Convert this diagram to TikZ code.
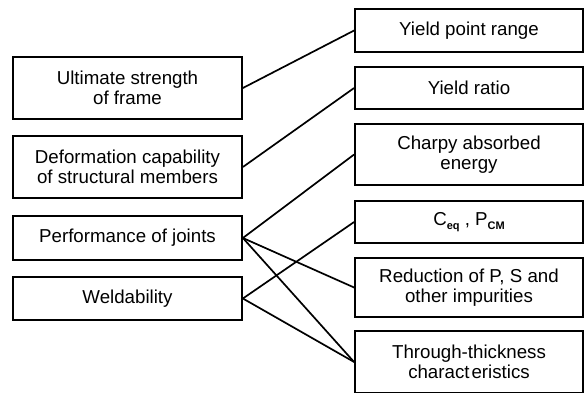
\documentclass[tikz,border=0pt]{standalone}
\usepackage{fontspec}
\setmainfont{Liberation Sans}
\begin{document}
\begin{tikzpicture}[x=1pt,y=1pt,
  box/.style={draw, line width=1.8pt, rectangle, inner sep=0pt, align=center,
    font=\fontsize{18.7}{19.5}\selectfont},
  lbox/.style={box, minimum width=229pt},
  rbox/.style={box, minimum width=228pt},
  link/.style={line width=1.7pt}]
\fill[white] (0,0) rectangle (586,392);
\useasboundingbox (0,0) rectangle (586,392);
\newcommand{\subtxt}[1]{\raisebox{-0.35ex}{\fontsize{11}{11}\selectfont\bfseries #1}}
% left
\node[lbox, minimum height=62pt] (L1) at (127.5,304) {Ultimate strength\\of frame};
\node[lbox, minimum height=62pt] (L2) at (127.5,225) {Deformation capability\\of structural members};
\node[lbox, minimum height=44pt] (L3) at (127.5,154) {Performance of joints};
\node[lbox, minimum height=43pt] (L4) at (127.5,93.5) {Weldability};
% right
\node[rbox, minimum height=43pt] (R1) at (469,361.5) {Yield point range};
\node[rbox, minimum height=42pt] (R2) at (469,304) {Yield ratio};
\node[rbox, minimum height=61pt] (R3) at (469,237.5) {Charpy absorbed\\energy};
\node[rbox, minimum height=42pt] (R4) at (469,170) {C\subtxt{eq} , P\subtxt{CM}};
\node[rbox, minimum height=59pt] (R5) at (469,104.5) {Reduction of P, S and\\other impurities};
\node[rbox, minimum height=62pt] (R6) at (469,30) {Through-thickness\\charact\kern2pt eristics};
% links
\draw[link] (L1.east) -- (R1.west);
\draw[link] (L2.east) -- (R2.west);
\draw[link] (L3.east) -- (R3.west);
\draw[link] (L3.east) -- (R5.west);
\draw[link] (L3.east) -- (R6.west);
\draw[link] (L4.east) -- (R4.west);
\draw[link] (L4.east) -- (R6.west);
\end{tikzpicture}
\end{document}
